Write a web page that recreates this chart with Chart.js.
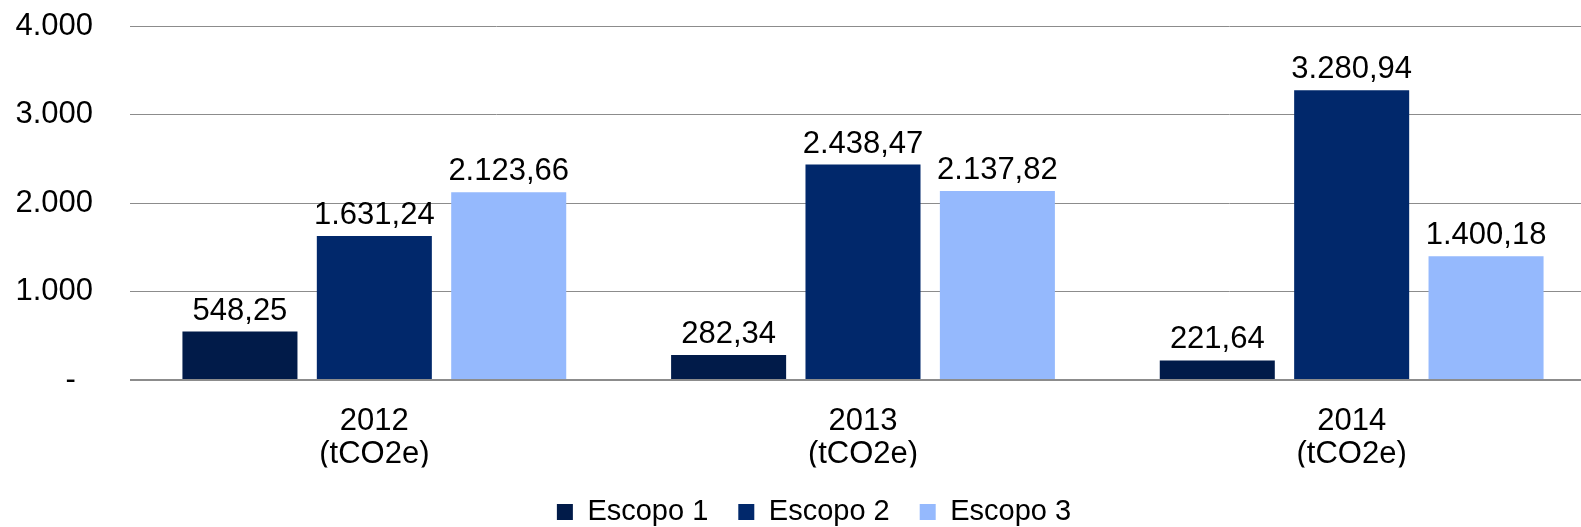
<!DOCTYPE html>
<html>
<head>
<meta charset="utf-8">
<script src="https://cdn.jsdelivr.net/npm/chart.js@4.4.0/dist/chart.umd.min.js"></script>
<style>
  html, body { margin: 0; padding: 0; background: #fff; overflow: hidden; }
  #wrap { width: 1596px; height: 527px; }
</style>
</head>
<body>
<div id="wrap"><canvas id="myChart" width="1596" height="527"></canvas></div>
<script>
var categories = [['2012', '(tCO2e)'], ['2013', '(tCO2e)'], ['2014', '(tCO2e)']];
var seriesNames = ['Escopo 1', 'Escopo 2', 'Escopo 3'];
var escopo1 = [548.25, 282.34, 221.64];
var escopo2 = [1631.24, 2438.47, 3280.94];
var escopo3 = [2123.66, 2137.82, 1400.18];
var yTicks = [0, 1000, 2000, 3000, 4000];

var FONT = "'Liberation Sans', Arial, sans-serif";

// 1234.5 -> "1.234" ; with decimals -> "1.234,50"
function fmtNum(v, dec) {
  var s = v.toFixed(dec);
  var parts = s.split('.');
  var intPart = parts[0].replace(/\B(?=(\d{3})+(?!\d))/g, '.');
  return dec ? intPart + ',' + parts[1] : intPart;
}

// draws the value above each bar
var barLabels = {
  id: 'barLabels',
  afterDatasetsDraw: function(chart) {
    var ctx = chart.ctx;
    ctx.save();
    ctx.font = '31px ' + FONT;
    ctx.fillStyle = '#000';
    ctx.textAlign = 'center';
    ctx.textBaseline = 'alphabetic';
    chart.data.datasets.forEach(function(ds, i) {
      chart.getDatasetMeta(i).data.forEach(function(bar, j) {
        ctx.fillText(fmtNum(ds.data[j], 2), bar.x, bar.y - 12);
      });
    });
    ctx.restore();
  }
};

// nudge the legend a little to the right
var legendShift = {
  id: 'legendShift',
  afterLayout: function(chart) {
    if (chart.legend) {
      chart.legend.left += 9;
      chart.legend.right += 9;
    }
  }
};

var ctx = document.getElementById('myChart').getContext('2d');
var myChart = new Chart(ctx, {
  type: 'bar',
  data: {
    labels: categories,
    datasets: [
      { label: seriesNames[0], data: escopo1, backgroundColor: '#011b49' },
      { label: seriesNames[1], data: escopo2, backgroundColor: '#01286b' },
      { label: seriesNames[2], data: escopo3, backgroundColor: '#95b9fd' }
    ]
  },
  options: {
    responsive: false,
    devicePixelRatio: 1,
    animation: false,
    layout: { padding: { top: 0, left: 14, right: 0, bottom: -9.5 } },
    datasets: {
      bar: { categoryPercentage: 0.825, barPercentage: 0.856 }
    },
    scales: {
      x: {
        grid: { display: false },
        border: { display: false },
        afterFit: function(scale) { scale.height = 87.5; },
        ticks: {
          color: '#000',
          padding: 17,
          font: { family: FONT, size: 31, lineHeight: 1.07 }
        }
      },
      y: {
        min: 0,
        max: 4000,
        afterBuildTicks: function(scale) {
          scale.ticks = yTicks.map(function(v) { return { value: v }; });
        },
        afterFit: function(scale) { scale.width = 116; },
        border: { display: false },
        grid: {
          color: '#8c8c8c',
          tickColor: 'rgba(0,0,0,0)',
          tickLength: 29,
          lineWidth: function(c) { return c.tick && c.tick.value === 0 ? 2 : 1; }
        },
        ticks: {
          color: '#000',
          padding: 8,
          font: { family: FONT, size: 31 },
          callback: function(v) { return v === 0 ? '-  ' : fmtNum(v, 0); }
        }
      }
    },
    plugins: {
      legend: {
        position: 'bottom',
        labels: {
          color: '#000',
          boxWidth: 16,
          boxHeight: 16,
          padding: 30,
          font: { family: FONT, size: 29 }
        }
      },
      tooltip: { enabled: false }
    }
  },
  plugins: [barLabels, legendShift]
});
</script>
</body>
</html>
